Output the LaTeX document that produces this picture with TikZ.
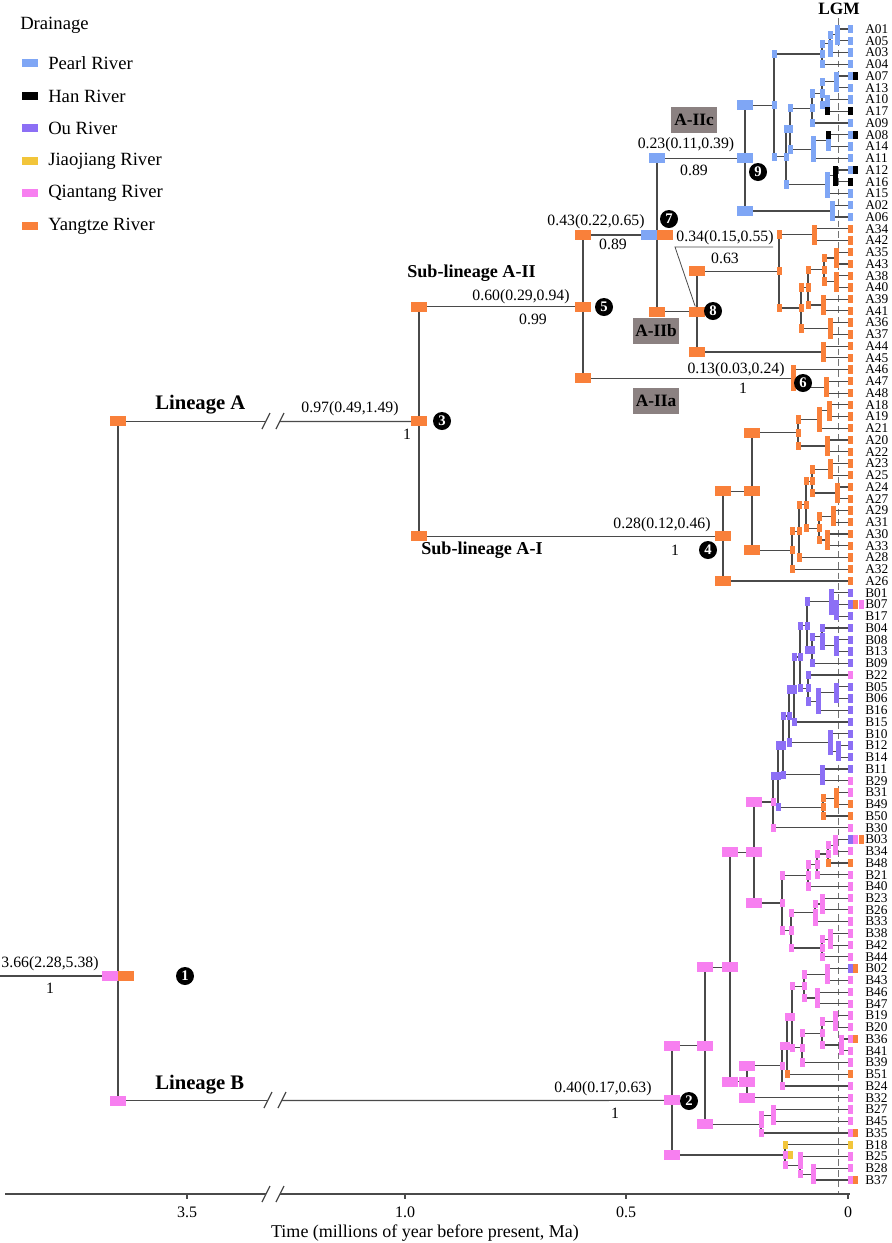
\documentclass[tikz,border=0pt]{standalone}
\usepackage{fontspec}
\setmainfont{Liberation Serif}
\usetikzlibrary{calc}
\pgfdeclarelayer{bg}
\pgfsetlayers{bg,main}
\definecolor{pearl}{HTML}{7FA6F5}
\definecolor{han}{HTML}{000000}
\definecolor{ou}{HTML}{8C6FF5}
\definecolor{jiao}{HTML}{F2C53A}
\definecolor{qian}{HTML}{F77FF0}
\definecolor{yang}{HTML}{F9803A}
\definecolor{boxg}{HTML}{8B8181}
\definecolor{brc}{HTML}{4A4A4A}
\tikzset{
 br/.style={draw=brc, line width=0.9pt},
 sbar/.style={rectangle, inner sep=0pt, minimum width=3.75pt, minimum height=6.2pt, draw=none},
 lbar/.style={rectangle, inner sep=0pt, minimum width=12pt, minimum height=7.5pt, draw=none},
 tiplab/.style={anchor=west, inner sep=0pt, font=\fontsize{10}{10}\selectfont},
 age/.style={inner sep=0pt, font=\fontsize{11.8}{12}\selectfont},
 lin/.style={anchor=west, inner sep=0pt, font=\bfseries\fontsize{15.5}{16}\selectfont},
 sub/.style={anchor=west, inner sep=0pt, font=\bfseries\fontsize{13.6}{14}\selectfont},
 clab/.style={fill=boxg, inner sep=0pt, minimum width=35pt, minimum height=20pt, font=\bfseries\fontsize{13}{14}\selectfont},
 num/.style={circle, fill=black, text=white, inner sep=0pt, minimum size=13.5pt, font=\bfseries\fontsize{11}{11}\selectfont},
 legt/.style={anchor=west, inner sep=0pt, font=\fontsize{14}{15}\selectfont},
 sw/.style={rectangle, inner sep=0pt, minimum width=12pt, minimum height=6pt, draw=none},
 axl/.style={inner sep=0pt, font=\fontsize{12}{13}\selectfont},
 lgm/.style={draw=black!55, line width=0.6pt, dash pattern=on 5pt off 3pt},
}
\newcommand\Tip[3]{%
  \pgfmathsetmacro\tmpy{29+11.745*#2}%
  \expandafter\xdef\csname ty@#1\endcsname{\tmpy}%
  \coordinate (#1) at (850,\tmpy);%
  \node[tiplab] (l#1) at (865,\tmpy) {#1};%
  \node[sbar,fill=#3] (b#1) at (#1) {};%
}
\newcommand\Nd[6][sbar]{%
  \edef\ya{\csname ty@#4\endcsname}\edef\yb{\csname ty@#5\endcsname}%
  \pgfmathsetmacro\tmpy{(\ya+\yb)/2}%
  \expandafter\xdef\csname ty@#2\endcsname{\tmpy}%
  \coordinate (#2) at (#3,\tmpy);%
  \begin{pgfonlayer}{bg}\draw[br] (#4) -| (#2) |- (#5);\end{pgfonlayer}%
  \node[#1,fill=#6] at (#4 -| #2) {};%
  \node[#1,fill=#6] at (#5 -| #2) {};%
  \node[#1,fill=#6] (b#2) at (#2) {};%
}
\begin{document}
\begin{tikzpicture}[x=0.75pt,y=-0.75pt]
\useasboundingbox (0,0) rectangle (892,1243);
% legend
\node[anchor=west, inner sep=0pt, font=\fontsize{14}{15}\selectfont] (legtitle) at (20,25) {Drainage};
\node[sw,fill=pearl] (sw1) at (30,63) {};  \node[legt] (lt1) at (48,63) {Pearl River};
\node[sw,fill=han] (sw2) at (30,96) {};    \node[legt] (lt2) at (48,96) {Han River};
\node[sw,fill=ou] (sw3) at (30,128) {};    \node[legt] (lt3) at (48,128) {Ou River};
\node[sw,fill=jiao] (sw4) at (30,161) {};  \node[legt] (lt4) at (48,161) {Jiaojiang River};
\node[sw,fill=qian] (sw5) at (30,193) {};  \node[legt] (lt5) at (48,193) {Qiantang River};
\node[sw,fill=yang] (sw6) at (30,226) {};  \node[legt] (lt6) at (48,226) {Yangtze River};
% LGM
\node[inner sep=0pt, font=\bfseries\fontsize{13}{14}\selectfont] (lgmlab) at (839,9) {LGM};
\coordinate (lgmtop) at (838,18);
\coordinate (lgmbot) at (838,1194);
\begin{pgfonlayer}{bg}\draw[lgm] (lgmtop) -- (lgmbot);\end{pgfonlayer}
% tips
\Tip{A01}{0}{pearl}\Tip{A05}{1}{pearl}\Tip{A03}{2}{pearl}\Tip{A04}{3}{pearl}
\Tip{A07}{4}{pearl}\Tip{A13}{5}{pearl}\Tip{A10}{6}{pearl}\Tip{A17}{7}{han}
\Tip{A09}{8}{pearl}\Tip{A08}{9}{pearl}\Tip{A14}{10}{pearl}\Tip{A11}{11}{pearl}
\Tip{A12}{12}{pearl}\Tip{A16}{13}{han}\Tip{A15}{14}{pearl}\Tip{A02}{15}{pearl}
\Tip{A06}{16}{pearl}
\Tip{A34}{17}{yang}\Tip{A42}{18}{yang}\Tip{A35}{19}{yang}\Tip{A43}{20}{yang}
\Tip{A38}{21}{yang}\Tip{A40}{22}{yang}\Tip{A39}{23}{yang}\Tip{A41}{24}{yang}
\Tip{A36}{25}{yang}\Tip{A37}{26}{yang}\Tip{A44}{27}{yang}\Tip{A45}{28}{yang}
\Tip{A46}{29}{yang}\Tip{A47}{30}{yang}\Tip{A48}{31}{yang}
\Tip{A18}{32}{yang}\Tip{A19}{33}{yang}\Tip{A21}{34}{yang}\Tip{A20}{35}{yang}
\Tip{A22}{36}{yang}\Tip{A23}{37}{yang}\Tip{A25}{38}{yang}\Tip{A24}{39}{yang}
\Tip{A27}{40}{yang}\Tip{A29}{41}{yang}\Tip{A31}{42}{yang}\Tip{A30}{43}{yang}
\Tip{A33}{44}{yang}\Tip{A28}{45}{yang}\Tip{A32}{46}{yang}\Tip{A26}{47}{yang}
\Tip{B01}{48}{ou}\Tip{B07}{49}{ou}\Tip{B17}{50}{ou}\Tip{B04}{51}{ou}
\Tip{B08}{52}{ou}\Tip{B13}{53}{ou}\Tip{B09}{54}{ou}\Tip{B22}{55}{qian}
\Tip{B05}{56}{ou}\Tip{B06}{57}{ou}\Tip{B16}{58}{ou}\Tip{B15}{59}{ou}
\Tip{B10}{60}{ou}\Tip{B12}{61}{ou}\Tip{B14}{62}{ou}\Tip{B11}{63}{ou}
\Tip{B29}{64}{qian}\Tip{B31}{65}{qian}\Tip{B49}{66}{yang}\Tip{B50}{67}{yang}
\Tip{B30}{68}{qian}\Tip{B03}{69}{ou}\Tip{B34}{70}{qian}\Tip{B48}{71}{yang}
\Tip{B21}{72}{qian}\Tip{B40}{73}{qian}\Tip{B23}{74}{qian}\Tip{B26}{75}{qian}
\Tip{B33}{76}{qian}\Tip{B38}{77}{qian}\Tip{B42}{78}{qian}\Tip{B44}{79}{qian}
\Tip{B02}{80}{ou}\Tip{B43}{81}{qian}\Tip{B46}{82}{qian}\Tip{B47}{83}{qian}
\Tip{B19}{84}{qian}\Tip{B20}{85}{qian}\Tip{B36}{86}{qian}\Tip{B41}{87}{qian}
\Tip{B39}{88}{qian}\Tip{B51}{89}{yang}\Tip{B24}{90}{qian}\Tip{B32}{91}{qian}
\Tip{B27}{92}{qian}\Tip{B45}{93}{qian}\Tip{B35}{94}{qian}\Tip{B18}{95}{jiao}
\Tip{B25}{96}{qian}\Tip{B28}{97}{qian}\Tip{B37}{98}{qian}
% extra tip states
\node[sbar,fill=han] at ([xshift=4.2pt]A07) {};
\node[sbar,fill=han] at ([xshift=4.2pt]A08) {};
\node[sbar,fill=han] at ([xshift=4.2pt]A12) {};
\node[sbar,fill=yang] at ([xshift=4.2pt]B07) {};
\node[sbar,fill=qian] at ([xshift=8.4pt]B07) {};
\node[sbar,fill=qian] at ([xshift=4.2pt]B03) {};
\node[sbar,fill=yang] at ([xshift=8.4pt]B03) {};
\node[sbar,fill=yang] at ([xshift=4.2pt]B02) {};
\node[sbar,fill=yang] at ([xshift=4.2pt]B36) {};
\node[sbar,fill=yang] at ([xshift=4.2pt]B35) {};
\node[sbar,fill=yang] at ([xshift=4.2pt]B37) {};
% A-IIc
\Nd{c4}{837}{A01}{A05}{pearl}
\Nd{c3}{830}{c4}{A03}{pearl}
\Nd{c2}{822}{c3}{A04}{pearl}
\Nd{e3}{836}{A07}{A13}{pearl}
\Nd{e4}{827}{A10}{A17}{pearl}
\Nd{e2}{822}{e3}{e4}{pearl}
\Nd{e1}{812}{e2}{A09}{pearl}
\Nd{f3}{828}{A08}{A14}{pearl}
\Nd{f2}{813}{f3}{A11}{pearl}
\Nd{f1}{790}{e1}{f2}{pearl}
\Nd{g2}{835}{A12}{A16}{han}
\Nd{g1}{827}{g2}{A15}{pearl}
\Nd{d1}{786}{f1}{g1}{pearl}
\Nd{c1}{774}{c2}{d1}{pearl}
\Nd{h1}{832}{A02}{A06}{pearl}
\Nd[lbar]{n9}{745}{c1}{h1}{pearl}
% A-IIb
\Nd{i2}{814}{A34}{A42}{yang}
\Nd{k1}{836}{A35}{A43}{yang}
\Nd{k2}{836}{A38}{A40}{yang}
\Nd{k3}{824}{k1}{k2}{yang}
\Nd{k4}{823}{A39}{A41}{yang}
\Nd{j1}{808}{k3}{k4}{yang}
\Nd{j2}{830}{A36}{A37}{yang}
\Nd{i3}{801}{j1}{j2}{yang}
\Nd{i1}{779}{i2}{i3}{yang}
\Nd{l1}{823}{A44}{A45}{yang}
\Nd[lbar]{n8}{697}{i1}{l1}{yang}
\Nd[lbar]{n7}{657}{n9}{n8}{yang}
% A-IIa
\Nd{m1}{826}{A47}{A48}{yang}
\Nd{n6}{793}{A46}{m1}{yang}
\Nd[lbar]{n5}{583}{n7}{n6}{yang}
% A-I
\Nd{q1}{829}{A18}{A19}{yang}
\Nd{p1}{819}{q1}{A21}{yang}
\Nd{p2}{827}{A20}{A22}{yang}
\Nd{o1}{798}{p1}{p2}{yang}
\Nd{u1}{830}{A23}{A25}{yang}
\Nd{u2}{837}{A24}{A27}{yang}
\Nd{r3}{812}{u1}{u2}{yang}
\Nd{u3}{833}{A29}{A31}{yang}
\Nd{u4}{827}{A30}{A33}{yang}
\Nd{r4}{819}{u3}{u4}{yang}
\Nd{r2}{806}{r3}{r4}{yang}
\Nd{r1}{799}{r2}{A28}{yang}
\Nd{o2}{792}{r1}{A32}{yang}
\Nd[lbar]{n1}{752}{o1}{o2}{yang}
\Nd[lbar]{n4}{723}{n1}{A26}{yang}
\Nd[lbar]{n3}{419}{n5}{n4}{yang}
% Lineage B
\Nd{ll1}{836}{B07}{B17}{ou}
\Nd{ll2}{831}{B01}{ll1}{ou}
\Nd{mm1}{836}{B08}{B13}{ou}
\Nd{nn1}{822}{B04}{mm1}{ou}
\Nd{nn2}{812}{nn1}{B09}{ou}
\Nd{oo1}{807}{ll2}{nn2}{ou}
\Nd{pp1}{836}{B05}{B06}{ou}
\Nd{pp2}{818}{pp1}{B16}{ou}
\Nd{qq1}{808}{B22}{pp2}{ou}
\Nd{rr1}{800}{oo1}{qq1}{ou}
\Nd{gg}{794}{rr1}{B15}{ou}
\Nd{ii1}{838}{B12}{B14}{ou}
\Nd{hh1}{830}{B10}{ii1}{ou}
\Nd{ff1}{789}{gg}{hh1}{ou}
\Nd{ee1}{822}{B11}{B29}{ou}
\Nd{cc1}{783}{ff1}{ee1}{ou}
\Nd{dd1}{836}{B31}{B49}{yang}
\Nd{cc2}{823}{dd1}{B50}{yang}
\Nd{bb1}{778}{cc1}{cc2}{ou}
\Nd{aa1}{773}{bb1}{B30}{qian}
\Nd{s1}{835}{B03}{B34}{qian}
\Nd{s2}{828}{s1}{B48}{qian}
\Nd{s3}{817}{s2}{B21}{qian}
\Nd{s4}{808}{s3}{B40}{qian}
\Nd{s7a}{822}{B23}{B26}{qian}
\Nd{s7}{815}{s7a}{B33}{qian}
\Nd{s8a}{830}{B38}{B42}{qian}
\Nd{s8}{822}{s8a}{B44}{qian}
\Nd{s6}{791}{s7}{s8}{qian}
\Nd{s5}{782}{s4}{s6}{qian}
\Nd[lbar]{y1}{754}{aa1}{s5}{qian}
\Nd{z3a}{827}{B02}{B43}{qian}
\Nd{z3b}{817}{B46}{B47}{qian}
\Nd{z3}{804}{z3a}{z3b}{qian}
\Nd{z6}{835}{B19}{B20}{qian}
\Nd{z7}{841}{B36}{B41}{qian}
\Nd{z5}{822}{z6}{z7}{qian}
\Nd{z4}{802}{z5}{B39}{qian}
\Nd{z2}{792}{z3}{z4}{qian}
\Nd{z2p}{787}{z2}{B51}{qian}
\Nd{z1}{782}{z2p}{B24}{qian}
\Nd[lbar]{y2}{747}{z1}{B32}{qian}
\Nd[lbar]{w1}{730}{y1}{y2}{qian}
\Nd{x1}{773}{B27}{B45}{qian}
\Nd{w2}{761}{x1}{B35}{qian}
\Nd[lbar]{v1}{705}{w1}{w2}{qian}
\Nd{t3}{813}{B28}{B37}{qian}
\Nd{t2}{800}{B25}{t3}{qian}
\Nd{t1}{785}{B18}{t2}{qian}
\Nd[lbar]{n2}{672}{v1}{t1}{qian}
% state overrides
\node[sbar,fill=han] at (A17 -| e4) {};
\node[sbar,fill=han] at (A08 -| f3) {};
\node[sbar,fill=ou] at (bb1 -| aa1) {};
\node[sbar,fill=yang] at (B48 -| s2) {};
\node[sbar,fill=yang] at (B51 -| z2p) {};
\node[sbar,fill=jiao] at (B18 -| t1) {};
\node[sbar,fill=jiao] at ([xshift=3.8pt]t1) {};
\node[lbar,fill=pearl] at ([xshift=-6pt]n7) {};
\node[lbar,fill=yang] at ([xshift=6pt]n7) {};
\node[lbar,fill=pearl] at (n9 -| n7) {};
% root and lineage branches
\coordinate (root) at (118,976);
\coordinate (r0) at (0,976);
\coordinate (rA) at (118,421.45);
\coordinate (rB) at (118,1100.5);
\coordinate (bA1) at (266,421.45);
\coordinate (bA2) at (280,421.45);
\coordinate (bB1) at (268,1100.5);
\coordinate (bB2) at (282,1100.5);
\begin{pgfonlayer}{bg}
\draw[br] (r0) -- (root);
\draw[br] (rA) -- (rB);
\draw[br] (rA) -- (bA1);
\draw[br] (bA2) -- (n3);
\draw[br] (rB) -- (bB1);
\draw[br] (bB2) -- (n2);
\end{pgfonlayer}
\draw[br] (262,429) -- (270,413);
\draw[br] (276,429) -- (284,413);
\draw[br] (264,1108) -- (272,1092);
\draw[br] (278,1108) -- (286,1092);
\node[lbar,fill=qian] (rootL) at ([xshift=-6pt]root) {};
\node[lbar,fill=yang] (rootR) at ([xshift=6pt]root) {};
\node[lbar,fill=yang] (rAbar) at (rA) {};
\node[lbar,fill=qian] (rBbar) at (rB) {};
% clade boxes
\node[clab] (boxc) at (694,120) {A-IIc};
\node[clab] (boxb) at (656,331) {A-IIb};
\node[clab] (boxa) at (656,401) {A-IIa};
% lineage labels
\node[lin] (linA) at (155,405) {Lineage A};
\node[lin] (linB) at (155,1085) {Lineage B};
\node[sub] (subII) at (407,273) {Sub-lineage A-II};
\node[sub] (subI) at (421,550) {Sub-lineage A-I};
% age labels
\node[age] at (50,964) {3.66(2.28,5.38)};
\node[age] at (50,988) {1};
\node[age] at (350,409) {0.97(0.49,1.49)};
\node[age] at (407,434) {1};
\node[age] at (521,297) {0.60(0.29,0.94)};
\node[age] at (533,319) {0.99};
\node[age] at (596,222) {0.43(0.22,0.65)};
\node[age] at (613,244) {0.89};
\node[age] at (686,145) {0.23(0.11,0.39)};
\node[age] at (694,170) {0.89};
\node[age] at (725,238) {0.34(0.15,0.55)};
\node[age] at (725,258) {0.63};
\node[age] at (736,370) {0.13(0.03,0.24)};
\node[age] at (743,388) {1};
\node[age] at (662,525) {0.28(0.12,0.46)};
\node[age] at (675,550) {1};
\node[age] at (603,1089) {0.40(0.17,0.63)};
\node[age] at (615,1113) {1};
% callout for node 8
\coordinate (co1) at (675,247);
\coordinate (co2) at (773,247);
\draw[br, line width=0.6pt] (co2) -- (co1) -- (bn8);
% node numbers
\node[num] (num1) at (185,976) {1};
\node[num] (num2) at (689,1101) {2};
\node[num] (num3) at (442,421) {3};
\node[num] (num4) at (708,550) {4};
\node[num] (num5) at (604,307) {5};
\node[num] (num6) at (803,383) {6};
\node[num] (num7) at (669,219) {7};
\node[num] (num8) at (713,311) {8};
\node[num] (num9) at (758,172) {9};
% axis
\coordinate (ax0) at (5,1194);
\coordinate (axb1) at (266,1194);
\coordinate (axb2) at (280,1194);
\coordinate (ax1) at (850,1194);
\draw[br] (ax0) -- (axb1);
\draw[br] (axb2) -- (ax1);
\draw[br] (262,1202) -- (270,1186);
\draw[br] (276,1202) -- (284,1186);
\foreach \xx/\tt in {187/3.5, 405/1.0, 626/0.5, 848/0} {
  \draw[br] (\xx,1194) -- (\xx,1199);
  \node[axl] at (\xx,1212) {\tt};
}
\node[axl, font=\fontsize{13.5}{14}\selectfont] (timelab) at (425,1233) {Time (millions of year before present, Ma)};
\end{tikzpicture}
\end{document}
